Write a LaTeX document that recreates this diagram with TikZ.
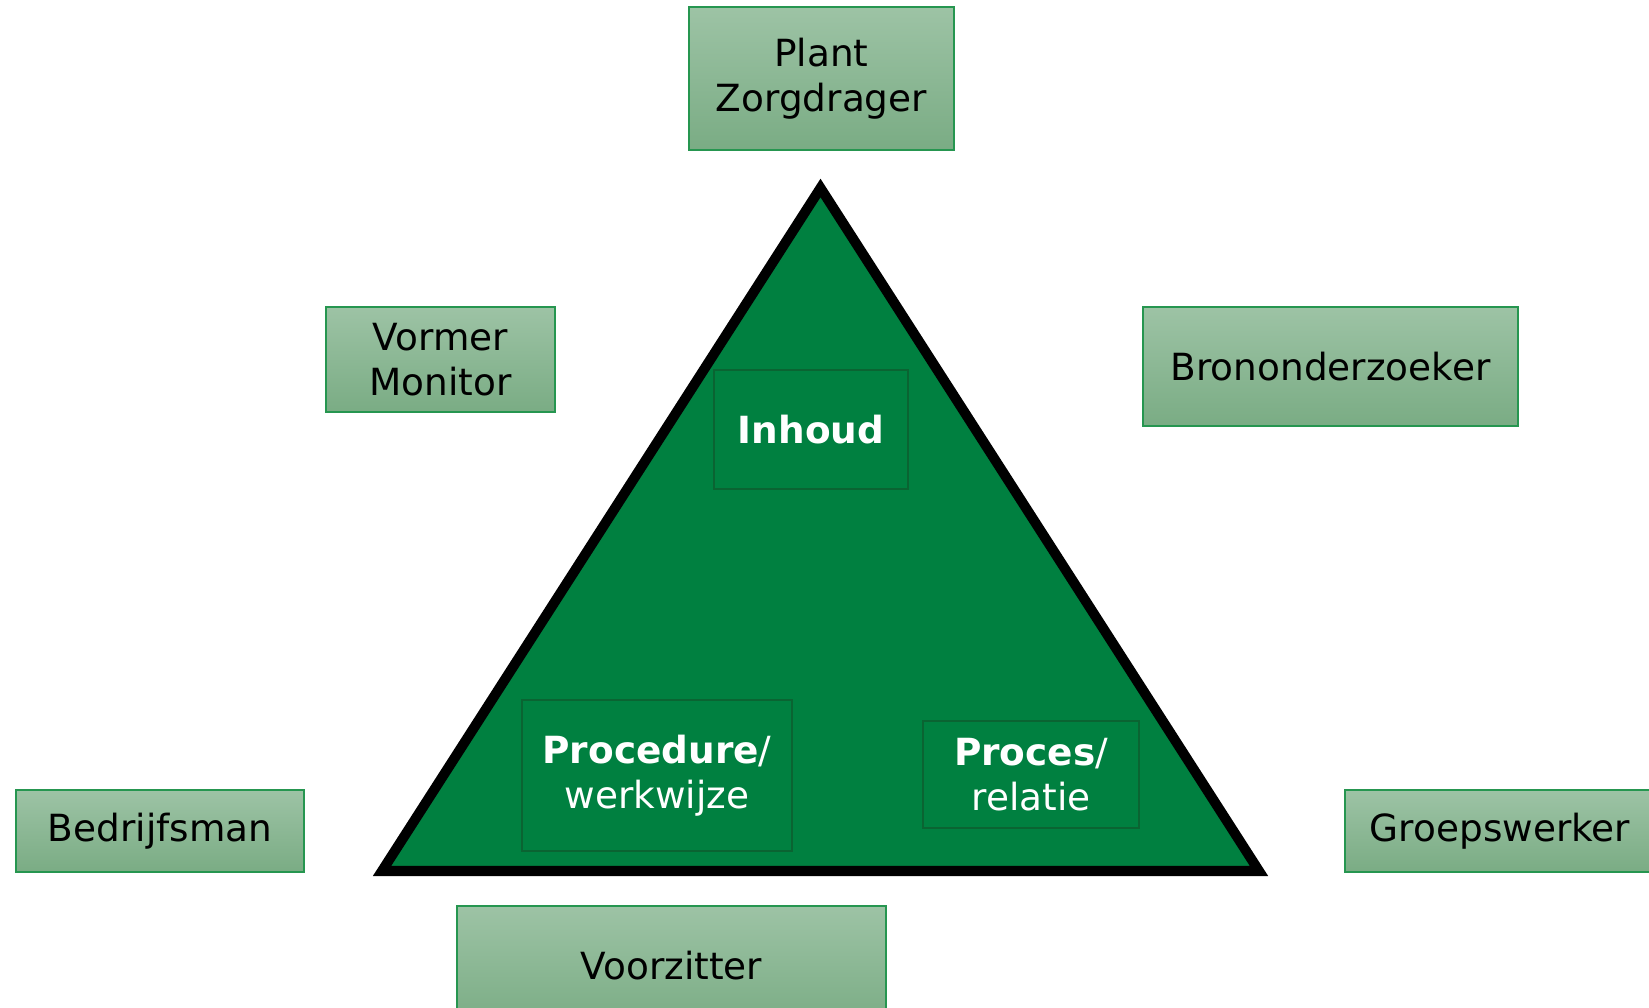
\documentclass[tikz,border=0pt]{standalone}
\usepackage{fontspec}
\setmainfont{DejaVu Sans}

\definecolor{tribg}{RGB}{0,128,64}
\definecolor{boxtop}{RGB}{157,195,165}
\definecolor{boxbot}{RGB}{122,172,132}
\definecolor{boxline}{RGB}{38,150,80}
\definecolor{innerline}{RGB}{10,100,50}

\begin{document}
\begin{tikzpicture}[x=0.5pt,y=0.5pt]
        \tikzstyle{every node} = [rectangle, inner sep=0pt, align=center, font=\fontsize{18.7}{22.5}\selectfont]
        \tikzstyle{role} = [draw=boxline, line width=0.75pt, top color=boxtop, bottom color=boxbot]
        \tikzstyle{part} = [draw=innerline, line width=0.6pt, text=white]
        \useasboundingbox (0,0) rectangle (1649,1007);
        \clip (0,0) rectangle (1649,1007);

        % triangle
        \coordinate (apex) at (820.5,819);
        \coordinate (bl) at (382,136);
        \coordinate (br) at (1259,136);
        \draw[fill=tribg, line width=5pt, line join=miter] (bl) -- (apex) -- (br) -- cycle;

        % roles
        \node[role, minimum width=132.5pt, minimum height=71.5pt] (plant) at (821.5,928.5) {Plant\\Zorgdrager};
        \node[role, minimum width=114.5pt, minimum height=52.5pt] (vormer) at (440.5,647.5) {Vormer\\Monitor};
        \node[role, minimum width=187.5pt, minimum height=59.5pt] (bron) at (1330.5,640.5) {Brononderzoeker};
        \node[role, minimum width=144pt, minimum height=41pt] (bedrijf) at (160,176) {Bedrijfsman};
        \node[role, minimum width=155pt, minimum height=41pt] (groep) at (1500,176) {Groepswerker};
        \node[role, minimum width=214.5pt, minimum height=60pt] (voorz) at (671.5,41) {Voorzitter};

        % parts of the triangle
        \node[part, minimum width=97pt, minimum height=59.5pt] (inhoud) at (811,577.5) {\textbf{Inhoud}};
        \node[part, minimum width=135pt, minimum height=75.5pt] (proc) at (657,231.5) {\textbf{Procedure}/\\werkwijze};
        \node[part, minimum width=108pt, minimum height=53.5pt] (proces) at (1031,232.5) {\textbf{Proces}/\\relatie};
\end{tikzpicture}
\end{document}
